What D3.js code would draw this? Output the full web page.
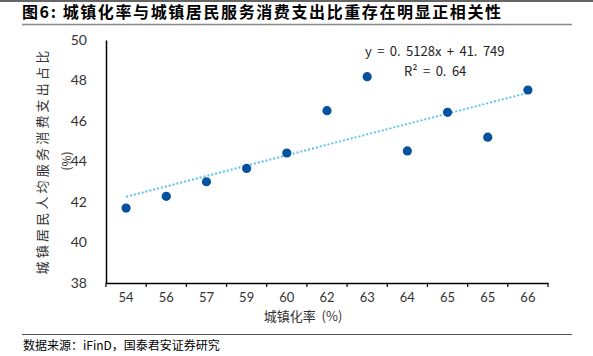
<!DOCTYPE html>
<html><head><meta charset="utf-8">
<script src="https://cdn.jsdelivr.net/npm/d3@7"></script>
<style>
body{margin:0;background:#fff;}
svg{display:block;}
text{font-family:"Noto Sans CJK SC",sans-serif;}
</style></head>
<body>
<script>
const categories = ["54","56","57","59","60","62","63","64","65","65","66"];
const values = [41.70,42.28,43.00,43.66,44.42,46.51,48.19,44.52,46.43,45.20,47.53];
const yTicks = [38,40,42,44,46,48,50];
const slope = 0.5128, intercept = 41.749;
const titleText = "图6:  城镇化率与城镇居民服务消费支出比重存在明显正相关性";
const eqText = "y = 0. 5128x + 41. 749";
const r2Text = "R² = 0. 64";
const xTitle = "城镇化率 (%)";
const yTitle1 = "城镇居民人均服务消费支出占比";
const yTitle2 = "(%)";
const source = "数据来源：iFinD，国泰君安证券研究";

const W=593,H=356;
const svg=d3.select("body").append("svg").attr("width",W).attr("height",H);

// header / footer rules
svg.append("rect").attr("x",0).attr("y",0).attr("width",W).attr("height",2).attr("fill","#666");
svg.append("text").attr("x",22).attr("y",18).attr("font-size",16).attr("letter-spacing",1.6).attr("font-weight","bold").attr("fill","#000").text(titleText);
svg.append("line").attr("x1",22).attr("x2",572).attr("y1",24.5).attr("y2",24.5).attr("stroke","#888").attr("stroke-width",1.5);
svg.append("line").attr("x1",22).attr("x2",572).attr("y1",334.5).attr("y2",334.5).attr("stroke","#555").attr("stroke-width",1);
svg.append("text").attr("x",23).attr("y",350).attr("font-size",12).attr("fill","#000").text(source);

const idx = d3.range(categories.length);
const x = d3.scaleBand().domain(idx).range([106,548]).paddingInner(0).paddingOuter(0);
const y = d3.scaleLinear().domain([38,50]).range([283,40]);

// y axis
const gy = svg.append("g").attr("transform","translate(106,0)")
  .call(d3.axisLeft(y).tickValues(yTicks).tickSize(0).tickPadding(19).tickFormat(d3.format("d")));
gy.select(".domain").attr("stroke","#000").attr("stroke-width",1.5);
gy.selectAll("text").attr("font-size",14).attr("fill","#333").style("font-family","Lato,sans-serif");

// x axis
const gx = svg.append("g").attr("transform","translate(0,283)")
  .call(d3.axisBottom(x).tickSize(0).tickPadding(10).tickFormat(i=>categories[i]));
gx.select(".domain").attr("stroke","#000").attr("stroke-width",1.5);
gx.selectAll("text").attr("font-size",13).attr("fill","#333").style("font-family","Lato,sans-serif");
const bounds = idx.map(i=>x(i)).concat([x(idx[idx.length-1])+x.bandwidth()]);
gx.selectAll(".btick").data(bounds).enter().append("line")
  .attr("x1",d=>d).attr("x2",d=>d).attr("y1",0).attr("y2",4).attr("stroke","#000").attr("stroke-width",1.2);

// trend line
const cx = i => x(i)+x.bandwidth()/2;
svg.append("line")
  .attr("x1",cx(0)).attr("y1",y(slope*1+intercept))
  .attr("x2",cx(idx.length-1)).attr("y2",y(slope*idx.length+intercept))
  .attr("stroke","#5bc0eb").attr("stroke-width",2).attr("stroke-dasharray","2,2");

// points
svg.selectAll(".pt").data(values).enter().append("circle")
  .attr("cx",(d,i)=>cx(i)).attr("cy",d=>y(d)).attr("r",4.6).attr("fill","#0652a1");

// equation
svg.append("text").attr("x",365).attr("y",56).attr("font-size",13).attr("word-spacing",2.5).attr("fill","#222").text(eqText);
svg.append("text").attr("x",404).attr("y",76).attr("font-size",13).attr("word-spacing",2.5).attr("fill","#222").text(r2Text);

// axis titles
svg.append("text").attr("x",303).attr("y",321).attr("text-anchor","middle").attr("font-size",13).attr("word-spacing",3).attr("fill","#333").text(xTitle);
svg.append("text").attr("transform","translate(47,161) rotate(-90)").attr("text-anchor","middle")
  .attr("font-size",13).attr("fill","#333").attr("letter-spacing",3.2).text(yTitle1);
svg.append("text").attr("transform","translate(71,161) rotate(-90)").attr("text-anchor","middle")
  .attr("font-size",12).attr("fill","#333").text(yTitle2);
</script>
</body></html>
